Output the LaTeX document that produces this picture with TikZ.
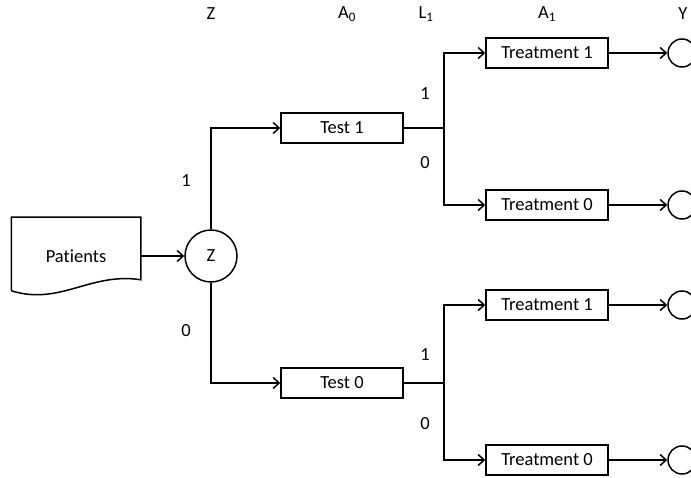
\documentclass[tikz,border=0pt]{standalone}
\usepackage{fontspec}
\setmainfont{Carlito}[Ligatures=NoCommon]
\usetikzlibrary{arrows.meta}

\begin{document}
\begin{tikzpicture}[x=1pt, y=-1pt, line width=1.5pt,
        font=\fontsize{18.5}{20}\selectfont,
        >={Straight Barb[length=6pt,width=11pt]},
        box/.style={draw, minimum width=122pt, minimum height=30pt, inner sep=0pt},
        outcome/.style={draw, circle, minimum size=28pt, inner sep=0pt}]
        \useasboundingbox (0, 0) rectangle (691, 478);
        % column headings
        \node (hz) at (211, 14) {Z};
        \node (ha0) at (347, 14) {A\textsubscript{0}};
        \node (hl1) at (426, 14) {L\textsubscript{1}};
        \node (ha1) at (547, 14) {A\textsubscript{1}};
        \node (hy) at (683, 14) {Y};
        % patients document
        \node[minimum width=128pt, minimum height=72pt, inner sep=0pt] (pat) at (76, 254) {};
        \node (pattext) at (76, 256) {Patients};
        \draw (pat.south west) -- (pat.north west) -- (pat.north east)
             -- ([yshift=11pt] pat.south east)
             .. controls (90, 272) and (60, 306) .. (pat.south west);
        \node[draw, circle, minimum size=52pt, inner sep=0pt] (z) at (211, 256) {Z};
        \draw[->] (pat.east |- z) -- (z);
        % tests
        \node[box] (test1) at (342, 128) {Test 1};
        \node[box] (test0) at (342, 383) {Test 0};
        \draw[->] (z.north) |- (test1.west);
        \draw[->] (z.south) |- (test0.west);
        \node at (186, 181) {1};
        \node at (186, 331) {0};
        % treatments
        \coordinate (b1) at (444, 128);
        \coordinate (b0) at (444, 383);
        \node[box] (tr11) at (547, 53) {Treatment 1};
        \node[box] (tr10) at (547, 205) {Treatment 0};
        \node[box] (tr01) at (547, 305) {Treatment 1};
        \node[box] (tr00) at (547, 460) {Treatment 0};
        \draw (test1.east) -- (b1);
        \draw (test0.east) -- (b0);
        \draw[->] (b1) |- (tr11.west);
        \draw[->] (b1) |- (tr10.west);
        \draw[->] (b0) |- (tr01.west);
        \draw[->] (b0) |- (tr00.west);
        \node at (425, 94) {1};
        \node at (425, 163) {0};
        \node at (425, 355) {1};
        \node at (425, 424) {0};
        % outcomes
        \foreach \t/\y in {tr11/53, tr10/205, tr01/305, tr00/460} {
            \node[outcome] (y\t) at (682, \y) {};
            \draw[->] (\t.east) -- (y\t.west);
        }
    \end{tikzpicture}
\end{document}
